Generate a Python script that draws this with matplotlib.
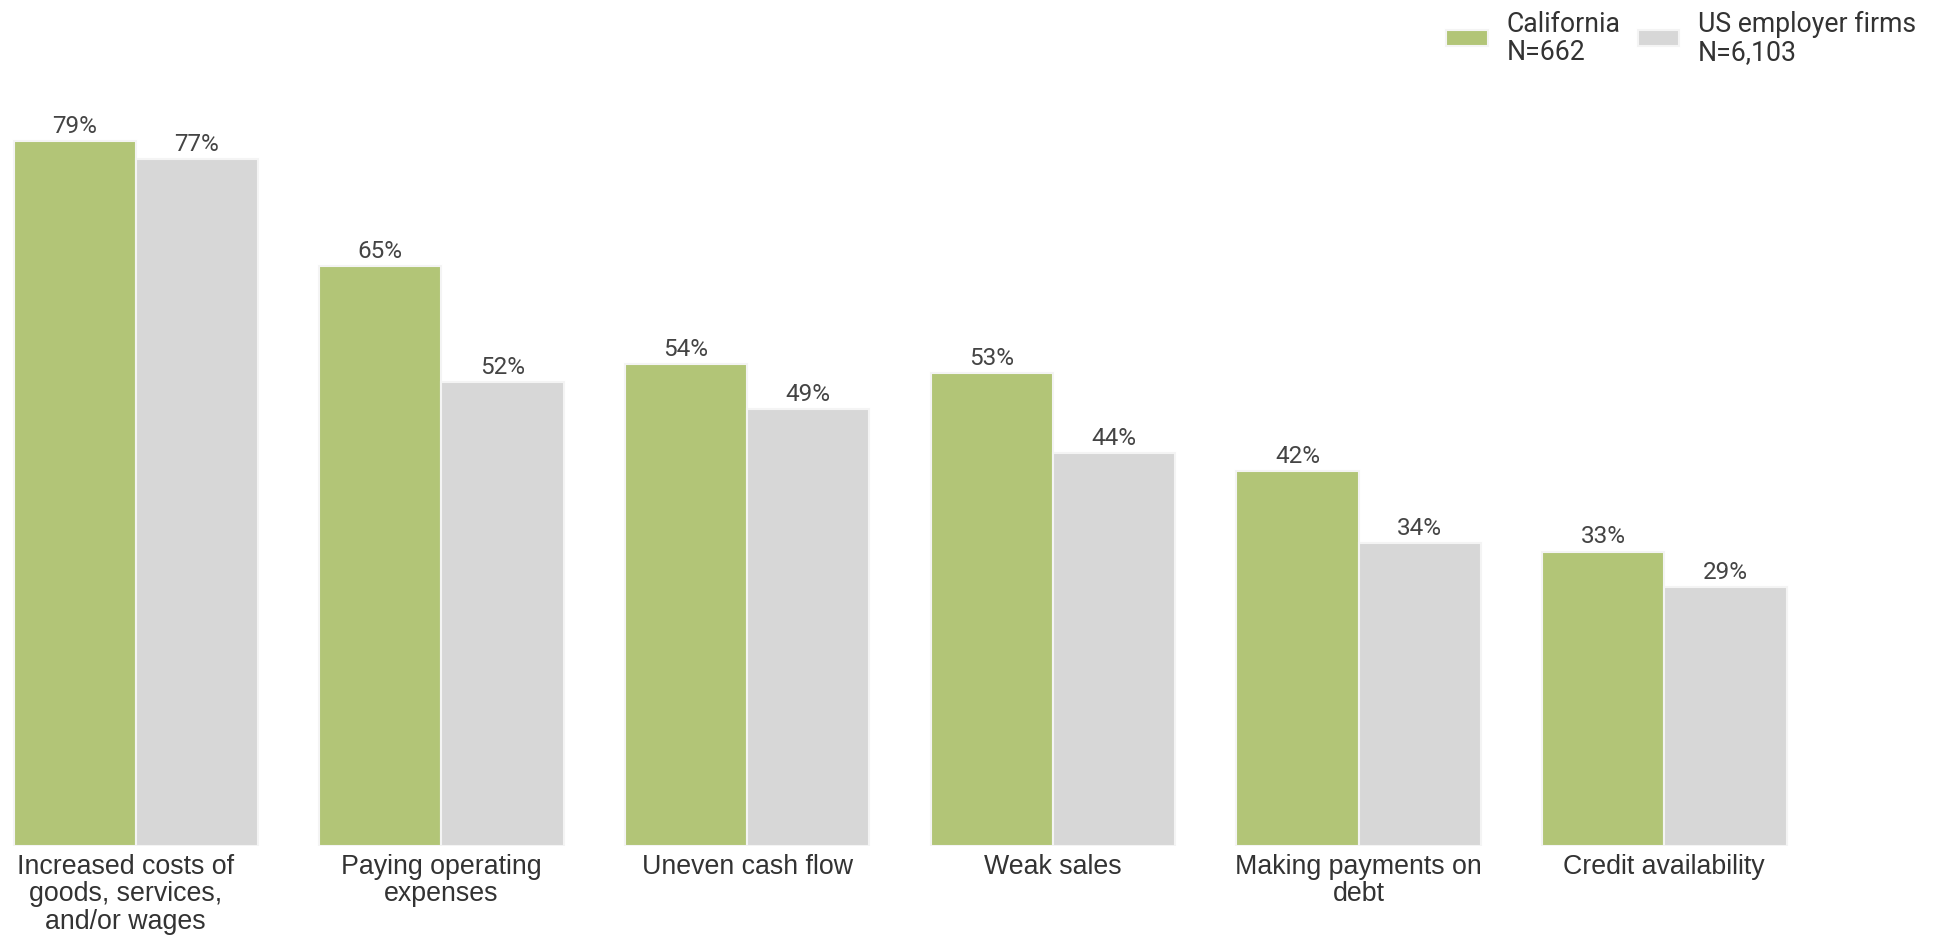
import numpy as np
import matplotlib
matplotlib.use("Agg")
from matplotlib import pyplot as plt
from matplotlib.transforms import ScaledTranslation

plt.rcParams["font.family"] = ["Roboto", "DejaVu Sans"]

categories = ["Increased costs of\ngoods, services,\nand/or wages",
              "Paying operating\nexpenses",
              "Uneven cash flow",
              "Weak sales",
              "Making payments on\ndebt",
              "Credit availability"]
california = [79, 65, 54, 53, 42, 33]
us_firms = [77, 52, 49, 44, 34, 29]
series_names = ["California\nN=662", "US employer firms\nN=6,103"]

green = "#b2c577"
grey = "#d7d7d7"
text_col = "#333333"

fig = plt.figure(figsize=(19.36, 9.37), dpi=100)
ax = fig.add_axes([0.005, 0.096, 0.925, 0.797])

x = np.arange(len(categories))
w = 0.4
b1 = ax.bar(x - w / 2, california, w, color=green, edgecolor="#f4f4f4", linewidth=1.5, label=series_names[0])
b2 = ax.bar(x + w / 2, us_firms, w, color=grey, edgecolor="#f4f4f4", linewidth=1.5, label=series_names[1])

for bars in (b1, b2):
    ax.bar_label(bars, labels=["%d%%" % v for v in bars.datavalues], padding=3,
                 fontsize=17.5, color="#444444")

ax.set_xlim(-0.4126, 5.4457)
ax.set_ylim(0, 83.7)
ax.set_xticks(x)
ax.set_xticklabels(categories, fontsize=19.3, color=text_col, linespacing=1.07,
                   family=["Liberation Sans", "DejaVu Sans"])
ax.tick_params(axis="x", length=0, pad=5)
ax.set_yticks([])
for s in ax.spines.values():
    s.set_visible(False)

# first label sits a little left of its group in the original
lbl = ax.get_xticklabels()[0]
lbl.set_transform(lbl.get_transform() + ScaledTranslation(-0.1, 0, fig.dpi_scale_trans))

leg = fig.legend(loc="upper right", bbox_to_anchor=(0.995, 1.0), ncol=2, frameon=False,
                 fontsize=19.2, handlelength=1.55, handleheight=0.52, handletextpad=0.7,
                 columnspacing=0.64, labelcolor=text_col, borderaxespad=0.2, borderpad=0.2)
for t in leg.get_texts():
    t.set_linespacing(1.05)

fig.savefig("out.png", dpi=100, facecolor="white")
